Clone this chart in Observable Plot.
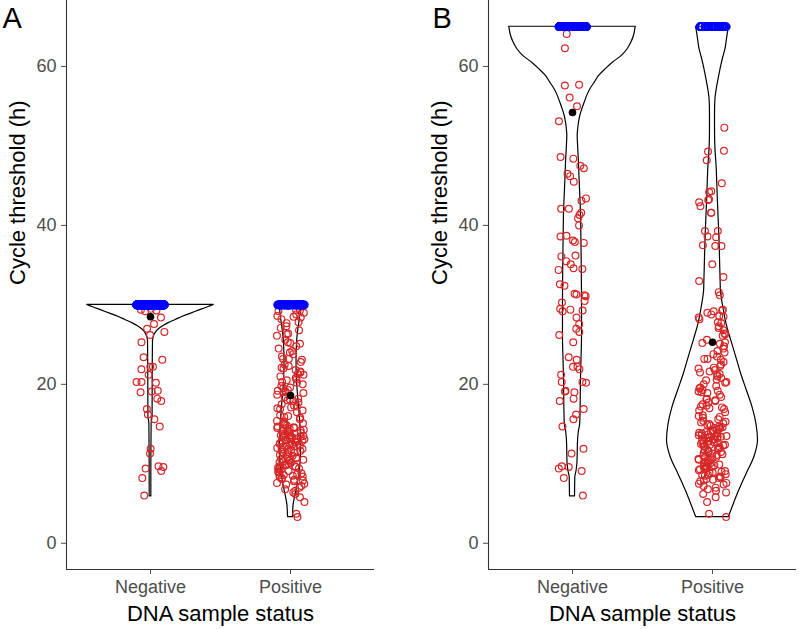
<!DOCTYPE html>
<html>
<head>
<meta charset="utf-8">
<script src="https://cdn.jsdelivr.net/npm/d3@7"></script>
<script src="https://cdn.jsdelivr.net/npm/@observablehq/plot@0.6"></script>
<style>
  html, body { margin: 0; padding: 0; background: white; }
  #row { display: flex; width: 800px; height: 629px; }
</style>
</head>
<body>
<div id="row"></div>
<script>
// ---------- data ----------
const categories = ["Negative", "Positive"];
const panelLabels = ["A", "B"];
const panelCaps = [30, 65];          // non-detect value in each panel
const yTicks = [0, 20, 40, 60];

// Detected cycle thresholds (h), as seen in panel B
const negativeCt = [64.1, 62.3, 57.7, 57.6, 56.1, 55.0, 53.1, 48.4, 48.6, 47.2, 47.5, 46.2, 46.5, 45.5,
  43.1, 43.4, 42.1, 41.6, 42.1, 41.3, 40.9, 40.0, 38.7, 38.1, 37.9, 38.6, 37.8, 36.1, 36.2, 35.5,
  35.1, 34.5, 34.6, 34.4, 32.4, 32.6, 31.4, 31.1, 31.2, 31.3, 30.5, 30.3,
  29.5, 29.3, 29.2, 29.4, 28.4, 27.6, 27.0, 26.6, 26.2, 25.3, 23.4, 23.1, 22.2, 22.2, 21.9, 21.2,
  20.3, 20.3, 20.2, 19.2, 19.0, 19.1, 18.2, 17.9, 16.9, 16.2, 15.6, 14.7, 11.9, 11.3, 9.7, 9.6,
  9.4, 9.1, 8.2, 6.0];
const positiveCt = [52.3, 49.4, 49.3, 48.2, 45.3, 44.2, 44.3, 43.3, 43.2, 42.9, 42.4, 41.6, 41.6, 39.3,
  39.3, 38.5, 38.6, 37.4, 37.4, 37.5, 35.1, 33.5, 33.0, 31.2, 31.6,
  29.4, 29.2, 29.3, 29.0, 28.8, 28.6, 28.5, 28.4, 28.2, 27.8, 27.7, 27.3, 27.1, 26.8, 26.3, 26.1, 26.4,
  25.3, 25.2, 25.1, 25.6, 24.8, 24.5, 24.2, 24.0, 23.8, 23.5, 23.2, 23.2, 23.1, 22.8, 22.5, 22.3, 22.1, 22.0,
  21.8, 21.6, 21.5, 21.3, 21.2, 21.0, 20.8, 20.6, 20.5, 20.3, 20.2, 20.0, 19.8, 19.6, 19.5, 19.3, 19.2, 19.1, 19.0,
  18.9, 18.7, 18.4, 18.2, 18.1, 18.0, 17.9, 17.7, 17.5, 17.3, 17.2, 17.1, 17.0, 16.9, 16.7, 16.5, 16.1, 16.0,
  15.9, 15.8, 15.6, 15.4, 15.3, 15.2, 15.1, 15.0, 14.9, 14.8, 14.7, 14.6, 14.5, 14.4, 14.3, 14.2, 14.1, 14.0, 14.5, 14.2,
  13.9, 13.8, 13.7, 13.6, 13.5, 13.4, 13.3, 13.2, 13.1, 13.0, 13.6, 13.3, 13.4, 13.1, 13.8, 13.5, 13.2,
  12.9, 12.8, 12.7, 12.6, 12.5, 12.4, 12.3, 12.2, 12.1, 12.0, 12.8, 12.4, 12.6, 12.2,
  11.9, 11.8, 11.6, 11.5, 11.3, 11.2, 11.0, 11.7, 11.4, 11.1, 11.5,
  10.9, 10.8, 10.6, 10.5, 10.4, 10.2, 10.1, 10.0, 10.7, 10.3, 10.5,
  9.9, 9.8, 9.7, 9.6, 9.5, 9.4, 9.3, 9.2, 9.1, 9.0, 9.5, 9.7,
  8.9, 8.8, 8.7, 8.6, 8.5, 8.4, 8.2, 8.1, 8.0, 8.3, 8.6,
  7.9, 7.8, 7.6, 7.5, 7.4, 7.2, 7.0, 6.8, 6.6, 6.4, 6.2, 5.8, 5.2, 3.7, 3.3];
// number of non-detected samples (plotted at the cap)
const notDetectedCounts = [170, 44];

// group means (black dots)
const meansA = [28.5, 18.6];
const meansB = [54.2, 25.3];

// violin outlines: [Ct, half-width in category units]
const violinNegA = [[30, 0.452], [29.7, 0.41], [29.3, 0.35], [28.9, 0.29], [28.5, 0.23], [28.1, 0.18],
  [27.7, 0.13], [27.3, 0.09], [26.9, 0.058], [26.5, 0.038], [26.0, 0.024], [25.5, 0.018], [22, 0.016],
  [16, 0.015], [15, 0.008], [10, 0.006], [5.9, 0.006]];
const violinPosA = [[30, 0.078], [29, 0.072], [28, 0.065], [27, 0.057], [26, 0.05], [25, 0.046], [23, 0.043],
  [21, 0.045], [19, 0.052], [17, 0.062], [15, 0.07], [13, 0.075], [11, 0.074], [9, 0.066], [7.5, 0.052],
  [6, 0.034], [4.8, 0.022], [3.3, 0.018]];
const violinNegB = [[65, 0.452], [64.5, 0.447], [63.9, 0.44], [63, 0.42], [62.2, 0.395], [61.3, 0.35],
  [60.5, 0.29], [59.7, 0.24], [58.8, 0.19], [58, 0.16], [57.2, 0.13], [56.3, 0.105], [55.5, 0.088],
  [54.6, 0.07], [53.8, 0.056], [52.9, 0.046], [52, 0.04], [51.3, 0.037], [50, 0.04], [48, 0.046],
  [46, 0.05], [44, 0.055], [42, 0.06], [39, 0.063], [35, 0.066], [30, 0.068], [26, 0.068], [23, 0.064],
  [20, 0.06], [17, 0.058], [15, 0.055], [14, 0.045], [13, 0.04], [10, 0.035], [9, 0.028], [8.3, 0.02], [5.9, 0.018]];
const violinPosB = [[65, 0.117], [64, 0.108], [63, 0.1], [62.2, 0.093], [61, 0.075], [60.1, 0.063], [59, 0.05],
  [58, 0.039], [57, 0.029], [55.9, 0.021], [54, 0.018], [52, 0.018], [49.6, 0.021], [47.5, 0.029],
  [45.4, 0.034], [43.3, 0.038], [41.2, 0.043], [39.1, 0.048], [37, 0.052], [34.9, 0.055], [33, 0.058],
  [31.8, 0.06], [29.7, 0.077], [27.6, 0.10], [25.5, 0.134], [23.4, 0.17], [21.3, 0.205], [19.2, 0.246],
  [17.1, 0.286], [15.0, 0.314], [12.9, 0.325], [10.8, 0.298], [8.7, 0.243], [6.6, 0.19], [4.5, 0.143], [3.3, 0.117]];

// ---------- drawing ----------
const RED = "#d62728";
const BLUE = "#0000ff";
const FONT = "'Liberation Sans', Arial, sans-serif";
const rng = d3.randomLcg(7);
const jitter = () => (rng() * 2 - 1) * 0.1;

function panel(p, violins, means, marginLeft, marginRight) {
  const cap = panelCaps[p];
  const groups = [negativeCt, positiveCt];
  const red = [], blue = [];
  groups.forEach((vals, i) => {
    vals.forEach(v => {
      if (v >= cap) blue.push({x: i + 1 + jitter(), y: cap});
      else red.push({x: i + 1 + jitter(), y: v});
    });
    for (let k = 0; k < notDetectedCounts[i]; k++) blue.push({x: i + 1 + jitter(), y: cap});
  });
  const violinData = violins.map((prof, i) => prof.map(([v, w]) => ({c: i + 1, v, w})));
  const meanData = means.map((m, i) => ({x: i + 1, y: m}));

  return Plot.plot({
    width: 400,
    height: 629,
    marginTop: 0,
    marginBottom: 60,
    marginLeft,
    marginRight,
    style: {fontFamily: FONT, background: "white", overflow: "visible"},
    x: {domain: [0.4, 2.6]},
    y: {domain: [-3.3, 68.3]},
    marks: [
      ...violinData.map(d => Plot.areaX(d, {
        y: "v", x1: r => r.c - r.w, x2: r => r.c + r.w,
        fill: "white", stroke: "black", strokeWidth: 1.2, curve: "monotone-y"
      })),
      Plot.dot(red, {x: "x", y: "y", r: 3.4, stroke: RED, strokeWidth: 1.2, fill: "none"}),
      Plot.dot(blue, {x: "x", y: "y", r: 3.6, stroke: BLUE, strokeWidth: 1.5, fill: "none"}),
      Plot.dot(meanData, {x: "x", y: "y", r: 3.8, fill: "black"}),
      Plot.ruleX([0.4], {stroke: "#333", strokeWidth: 1.1}),
      Plot.ruleY([-3.3], {stroke: "#333", strokeWidth: 1.1}),
      Plot.axisY({ticks: yTicks, tickSize: 5, tickPadding: 5, fontSize: 18, color: "#4d4d4d", label: null}),
      Plot.axisX({ticks: [1, 2], tickFormat: i => categories[i - 1], tickSize: 5, tickPadding: 6,
        fontSize: 18, color: "#4d4d4d", label: null}),
      Plot.text(["DNA sample status"], {frameAnchor: "bottom", lineAnchor: "bottom", dy: 51, fontSize: 22, fill: "black"}),
      Plot.text(["Cycle threshold (h)"], {frameAnchor: "left", rotate: -90, dx: -49, fontSize: 22, fill: "black"}),
      Plot.text([panelLabels[p]], {frameAnchor: "top-left", dx: -marginLeft + (p === 0 ? 2 : 32), dy: 7,
        lineAnchor: "top", textAnchor: "start", fontSize: 29, fill: "black"})
    ]
  });
}

const row = document.getElementById("row");
row.appendChild(panel(0, [violinNegA, violinPosA], meansA, 66, 26));
row.appendChild(panel(1, [violinNegB, violinPosB], meansB, 88, 4));
</script>
</body>
</html>
